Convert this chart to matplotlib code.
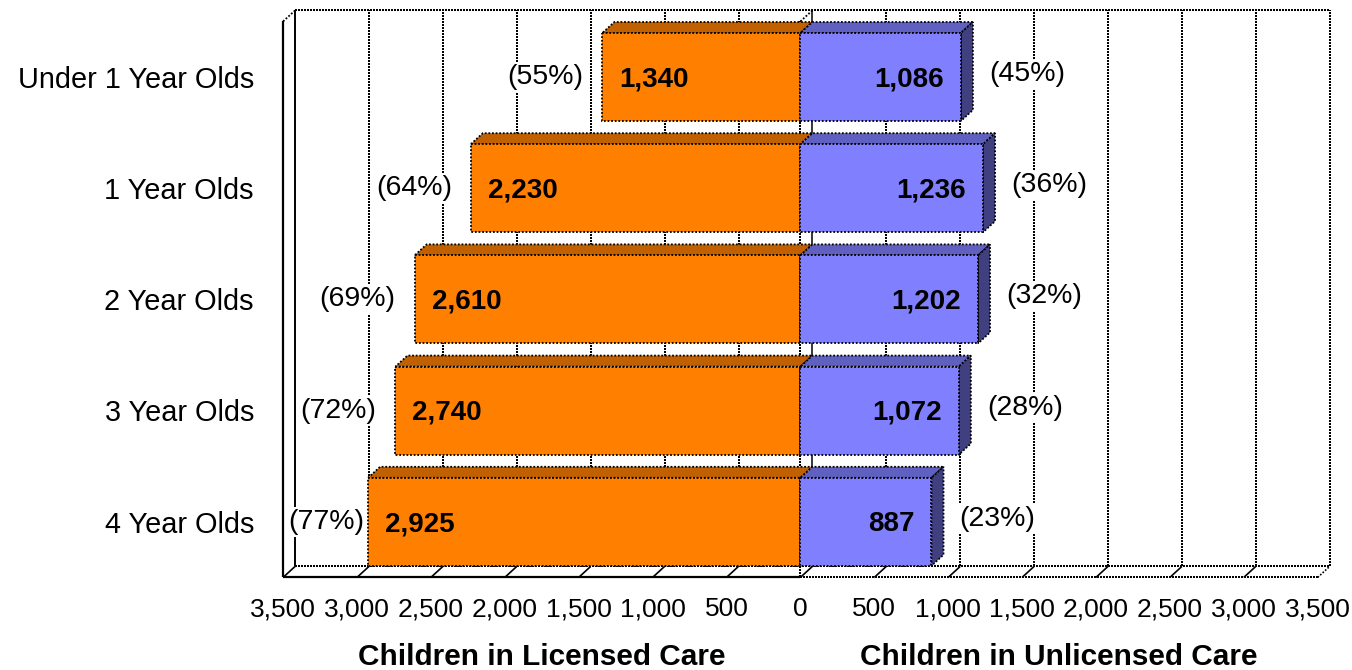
import matplotlib
matplotlib.use("Agg")
import matplotlib.pyplot as plt
from matplotlib.patches import Polygon

plt.rcParams['font.family'] = ['Liberation Sans', 'DejaVu Sans']

# ---------------- data ----------------
categories = ["Under 1 Year Olds", "1 Year Olds", "2 Year Olds", "3 Year Olds", "4 Year Olds"]
licensed = [1340, 2230, 2610, 2740, 2925]
unlicensed = [1086, 1236, 1202, 1072, 887]
licensed_pct = [55, 64, 69, 72, 77]
unlicensed_pct = [45, 36, 32, 28, 23]
tick_values = [0, 500, 1000, 1500, 2000, 2500, 3000, 3500]
left_title = "Children in Licensed Care"
right_title = "Children in Unlicensed Care"

# ---------------- styling / geometry ----------------
W, H = 1352, 670
PX = 0.1478      # pixels per unit
X0 = 800.4       # pixel of zero
PITCH = 111.2    # pixels per category
Y0 = 77.0        # pixel of first category centre
XMAX = tick_values[-1]

orange_front, orange_top = '#FF8000', '#C06000'
blue_front, blue_top, blue_side = '#8080FF', '#6060C0', '#404080'
DOT = (0, (1.0, 1.0))
DLW = 1.3

fig = plt.figure(figsize=(W / 100, H / 100), dpi=100)
ax = fig.add_axes([0, 0, 1, 1])
ax.axis('off')
ax.set_xlim(-X0 / PX, (W - X0) / PX)
ax.set_ylim((H - Y0) / PITCH, -Y0 / PITCH)

dx = 12 / PX          # depth offset in value units
dy = 11 / PITCH       # depth offset in category units
hb = 44 / PITCH       # half bar height
n = len(categories)
ytop, ybot = -0.5, n - 0.5

def line(xs, ys, dotted=False, lw=None, z=1):
    if lw is None:
        lw = DLW if dotted else 1.1
    straight = (xs[0] == xs[1]) or (ys[0] == ys[1])
    ax.plot(xs, ys, color='black', lw=lw, linestyle=DOT if dotted else '-',
            solid_capstyle='butt', zorder=z, antialiased=not (dotted and straight))

# back wall gridlines
all_ticks = sorted(set([-t for t in tick_values] + tick_values))
for t in all_ticks:
    if t == 0:
        line([t + dx, t + dx], [ybot - dy, ytop - dy], dotted=False, lw=1.1)
    elif t == -XMAX:
        line([t + dx, t + dx], [ybot - dy, ytop - dy], dotted=False, lw=1.4)
    else:
        line([t + dx, t + dx], [ybot - dy, ytop - dy], dotted=True)
# top edge of back wall
line([-XMAX + dx, XMAX + dx], [ytop - dy, ytop - dy], dotted=True)
# zero plane front edge and top diagonal
line([0, 0], [ybot, ytop], dotted=True)
line([0, dx], [ytop, ytop - dy], dotted=True)

# floor
line([-XMAX + dx, XMAX + dx], [ybot - dy, ybot - dy], dotted=True)
line([-XMAX, 0], [ybot, ybot], lw=1.6)
line([0, XMAX], [ybot, ybot], dotted=True)
for t in all_ticks:
    line([t, t + dx], [ybot, ybot - dy], dotted=(t == XMAX), lw=1.2)

# left wall
line([-XMAX, -XMAX], [ybot, ytop], lw=1.6)
line([-XMAX, -XMAX + dx], [ytop, ytop - dy], dotted=True)

# bars
def face(pts, color):
    ax.add_patch(Polygon(pts, closed=True, facecolor=color, edgecolor='black',
                         lw=DLW, linestyle=DOT, zorder=3))

for i in range(n):
    v = licensed[i]
    t, b = i - hb, i + hb
    face([(-v, t), (0, t), (dx, t - dy), (-v + dx, t - dy)], orange_top)
    face([(-v, t), (0, t), (0, b), (-v, b)], orange_front)
    u = unlicensed[i]
    face([(0, t), (u, t), (u + dx, t - dy), (dx, t - dy)], blue_top)
    face([(u, t), (u, b), (u + dx, b - dy), (u + dx, t - dy)], blue_side)
    face([(0, t), (u, t), (u, b), (0, b)], blue_front)

# labels
box = dict(facecolor='white', edgecolor='none', pad=1.5)
min_left_center = -XMAX + 43 / PX
for i in range(n):
    v, u = licensed[i], unlicensed[i]
    ax.text(-v + 17 / PX, i + 0.02, f"{v:,}", ha='left', va='center',
            fontsize=20, fontweight='bold', zorder=5)
    ax.text(u - 17 / PX, i + 0.02, f"{u:,}", ha='right', va='center',
            fontsize=20, fontweight='bold', zorder=5)
    cx = max(-(v + 57 / PX), min_left_center)
    ax.text(cx, i, f"({licensed_pct[i]}%)", ha='center', va='center',
            fontsize=20.5, bbox=box, zorder=4)
    ax.text(u + 66 / PX, i - 3 / PITCH, f"({unlicensed_pct[i]}%)", ha='center',
            va='center', fontsize=20.5, bbox=box, zorder=4)
    ax.text((254 - X0) / PX, i + 0.025, categories[i], ha='right', va='center',
            fontsize=20.8, zorder=4)

ytick = (609 - Y0) / PITCH
for t in all_ticks:
    ax.text(t, ytick, f"{abs(t):,}", ha='center', va='center', fontsize=19)

ytitle = (657 - Y0) / PITCH
ax.text(-XMAX / 2, ytitle, left_title, ha='center', va='center',
        fontsize=21.4, fontweight='bold')
ax.text(XMAX / 2, ytitle, right_title, ha='center', va='center',
        fontsize=21.4, fontweight='bold')

fig.savefig('out.png', dpi=100, facecolor='white')
